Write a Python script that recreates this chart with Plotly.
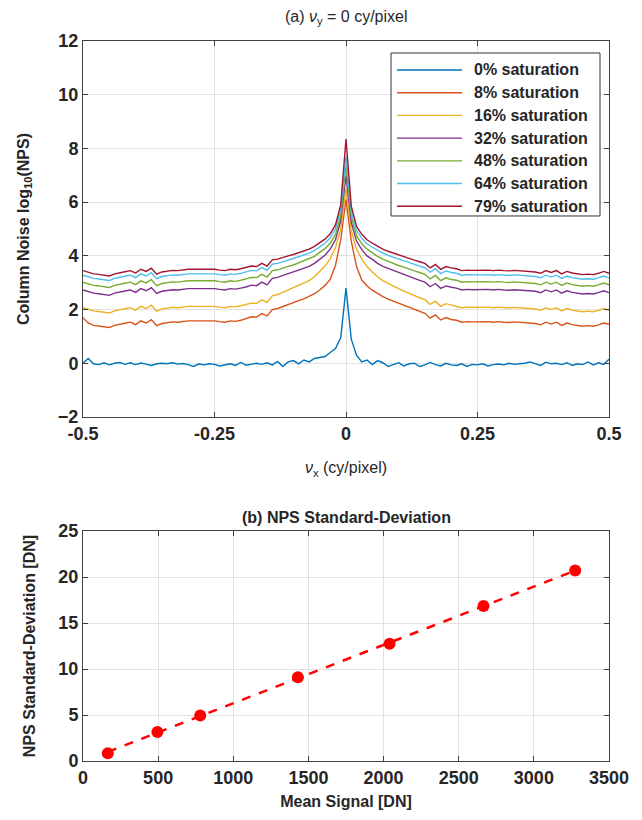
import numpy as np
import plotly.graph_objects as go
from plotly.subplots import make_subplots

# ---------------- data: panel (a) ----------------
nu_x = [round(-0.5 + 0.01 * i, 2) for i in range(101)]

sat_0 = [0.00, 0.18, -0.02, -0.05, 0.02, -0.06, 0.00, 0.03, -0.04, 0.02,
         -0.05, 0.01, -0.03, -0.08, -0.02, 0.00, -0.02, 0.02, -0.03, -0.01,
         -0.05, -0.12, -0.03, -0.06, -0.02, -0.04, -0.10, -0.05, -0.02, -0.08,
         0.03, -0.07, -0.03, 0.00, -0.04, 0.02, -0.06, 0.07, -0.12, 0.05,
         0.10, -0.02, 0.12, 0.05, 0.18, 0.22, 0.25, 0.40, 0.55, 0.95,
         2.80,
         0.90, 0.30, 0.05, 0.12, -0.05, 0.10, 0.02, -0.12, -0.05, 0.02,
         -0.10, -0.02, 0.00, -0.12, -0.06, 0.03, -0.05, -0.10, 0.00, -0.06,
         -0.08, -0.02, -0.12, -0.04, -0.06, -0.02, -0.10, -0.05, -0.03, -0.06,
         0.00, -0.04, -0.02, 0.00, 0.05, -0.02, -0.08, 0.04, -0.02, 0.00,
         -0.05, 0.02, -0.08, -0.02, -0.05, 0.05, -0.06, 0.02, -0.04, 0.15]

sat_8 = [1.70, 1.50, 1.41, 1.39, 1.37, 1.33, 1.41, 1.46, 1.49, 1.53,
         1.44, 1.58, 1.50, 1.62, 1.40, 1.48, 1.52, 1.54, 1.53, 1.56,
         1.58, 1.58, 1.58, 1.56, 1.58, 1.58, 1.55, 1.53, 1.58, 1.56,
         1.60, 1.66, 1.73, 1.72, 1.85, 1.76, 2.00, 2.04, 2.12, 2.18,
         2.25, 2.33, 2.40, 2.48, 2.59, 2.73, 2.90, 3.12, 3.65, 4.60,
         6.10,
         4.55, 3.60, 3.10, 2.88, 2.72, 2.59, 2.48, 2.39, 2.31, 2.23,
         2.15, 2.07, 2.00, 1.93, 1.86, 1.68, 1.80, 1.61, 1.70, 1.63,
         1.60, 1.53, 1.55, 1.54, 1.55, 1.54, 1.55, 1.53, 1.55, 1.53,
         1.52, 1.54, 1.53, 1.51, 1.50, 1.48, 1.43, 1.53, 1.46, 1.53,
         1.41, 1.50, 1.44, 1.41, 1.38, 1.40, 1.38, 1.43, 1.50, 1.45]

sat_16 = [2.07, 2.00, 1.95, 1.93, 1.91, 1.87, 1.95, 2.00, 2.03, 2.07,
          1.98, 2.12, 2.04, 2.16, 1.94, 2.02, 2.06, 2.08, 2.07, 2.10,
          2.12, 2.12, 2.12, 2.10, 2.12, 2.12, 2.09, 2.07, 2.12, 2.10,
          2.14, 2.18, 2.24, 2.23, 2.36, 2.27, 2.51, 2.56, 2.65, 2.72,
          2.80, 2.90, 2.98, 3.08, 3.22, 3.41, 3.62, 3.90, 4.30, 5.00,
          6.50,
          4.95, 4.25, 3.88, 3.60, 3.40, 3.22, 3.08, 2.97, 2.88, 2.78,
          2.69, 2.60, 2.52, 2.44, 2.37, 2.19, 2.31, 2.12, 2.22, 2.17,
          2.14, 2.07, 2.09, 2.08, 2.09, 2.08, 2.09, 2.07, 2.09, 2.07,
          2.06, 2.08, 2.07, 2.05, 2.04, 2.02, 1.97, 2.07, 2.00, 2.07,
          1.95, 2.04, 1.98, 1.95, 1.92, 1.94, 1.92, 1.97, 2.04, 1.97]

sat_32 = [2.73, 2.66, 2.61, 2.59, 2.57, 2.53, 2.61, 2.66, 2.69, 2.73,
          2.64, 2.78, 2.70, 2.82, 2.60, 2.68, 2.72, 2.74, 2.73, 2.76,
          2.78, 2.78, 2.78, 2.76, 2.78, 2.78, 2.75, 2.73, 2.78, 2.76,
          2.80, 2.84, 2.91, 2.89, 3.02, 2.92, 3.16, 3.20, 3.27, 3.33,
          3.39, 3.47, 3.54, 3.61, 3.72, 3.88, 4.02, 4.25, 4.60, 5.30,
          7.00,
          5.25, 4.55, 4.23, 4.00, 3.87, 3.72, 3.61, 3.53, 3.45, 3.37,
          3.30, 3.22, 3.16, 3.09, 3.02, 2.85, 2.97, 2.79, 2.88, 2.83,
          2.80, 2.73, 2.75, 2.74, 2.75, 2.74, 2.75, 2.73, 2.75, 2.73,
          2.72, 2.74, 2.73, 2.71, 2.70, 2.68, 2.63, 2.73, 2.66, 2.73,
          2.61, 2.70, 2.64, 2.61, 2.58, 2.60, 2.58, 2.63, 2.70, 2.63]

sat_48 = [3.02, 2.95, 2.90, 2.88, 2.86, 2.82, 2.90, 2.95, 2.98, 3.02,
          2.93, 3.07, 2.99, 3.11, 2.89, 2.97, 3.01, 3.03, 3.02, 3.05,
          3.07, 3.07, 3.07, 3.05, 3.07, 3.07, 3.04, 3.02, 3.07, 3.05,
          3.09, 3.14, 3.20, 3.19, 3.31, 3.21, 3.45, 3.48, 3.55, 3.61,
          3.66, 3.74, 3.80, 3.88, 3.98, 4.13, 4.27, 4.47, 4.80, 5.50,
          7.35,
          5.45, 4.75, 4.45, 4.25, 4.12, 3.98, 3.88, 3.79, 3.72, 3.64,
          3.58, 3.50, 3.44, 3.38, 3.31, 3.14, 3.27, 3.08, 3.18, 3.12,
          3.09, 3.02, 3.04, 3.03, 3.04, 3.03, 3.04, 3.02, 3.04, 3.02,
          3.01, 3.03, 3.02, 3.00, 2.99, 2.97, 2.92, 3.02, 2.95, 3.02,
          2.90, 2.99, 2.93, 2.90, 2.87, 2.89, 2.87, 2.92, 2.99, 2.92]

sat_64 = [3.28, 3.21, 3.16, 3.14, 3.12, 3.08, 3.16, 3.21, 3.24, 3.28,
          3.19, 3.33, 3.25, 3.37, 3.15, 3.23, 3.27, 3.29, 3.28, 3.31,
          3.33, 3.33, 3.33, 3.31, 3.33, 3.33, 3.30, 3.28, 3.33, 3.31,
          3.35, 3.40, 3.46, 3.44, 3.56, 3.46, 3.69, 3.72, 3.79, 3.84,
          3.90, 3.97, 4.03, 4.10, 4.20, 4.33, 4.47, 4.67, 5.00, 5.70,
          7.70,
          5.65, 4.95, 4.65, 4.45, 4.32, 4.20, 4.10, 4.02, 3.95, 3.88,
          3.81, 3.74, 3.68, 3.62, 3.56, 3.39, 3.52, 3.34, 3.44, 3.38,
          3.35, 3.28, 3.30, 3.29, 3.30, 3.29, 3.30, 3.28, 3.30, 3.28,
          3.27, 3.29, 3.28, 3.26, 3.25, 3.23, 3.18, 3.28, 3.21, 3.28,
          3.16, 3.25, 3.19, 3.16, 3.13, 3.15, 3.13, 3.18, 3.25, 3.18]

sat_79 = [3.45, 3.38, 3.33, 3.31, 3.29, 3.25, 3.33, 3.38, 3.41, 3.45,
          3.36, 3.50, 3.42, 3.54, 3.32, 3.40, 3.44, 3.46, 3.45, 3.48,
          3.50, 3.50, 3.50, 3.48, 3.50, 3.50, 3.47, 3.45, 3.50, 3.48,
          3.52, 3.56, 3.62, 3.60, 3.72, 3.62, 3.85, 3.88, 3.95, 4.00,
          4.05, 4.12, 4.18, 4.25, 4.35, 4.48, 4.62, 4.82, 5.15, 5.90,
          8.35,
          5.85, 5.10, 4.80, 4.60, 4.47, 4.35, 4.25, 4.17, 4.10, 4.03,
          3.97, 3.90, 3.84, 3.78, 3.72, 3.55, 3.68, 3.50, 3.60, 3.55,
          3.52, 3.45, 3.47, 3.46, 3.47, 3.46, 3.47, 3.45, 3.47, 3.45,
          3.44, 3.46, 3.45, 3.43, 3.42, 3.40, 3.35, 3.45, 3.38, 3.45,
          3.33, 3.42, 3.36, 3.33, 3.30, 3.32, 3.30, 3.35, 3.42, 3.35]

series_names = ["0% saturation", "8% saturation", "16% saturation", "32% saturation",
                "48% saturation", "64% saturation", "79% saturation"]
series_values = [sat_0, sat_8, sat_16, sat_32, sat_48, sat_64, sat_79]
series_colors = ["#0072BD", "#D95319", "#EDB120", "#7E2F8E", "#77AC30", "#4DBEEE", "#A2142F"]

# ---------------- data: panel (b) ----------------
mean_signal = [165, 495, 780, 1430, 2040, 2665, 3275]
nps_std = [0.85, 3.15, 4.95, 9.1, 12.75, 16.85, 20.7]

FONT = "Liberation Sans, Arial, sans-serif"
AXC = "#404040"
TXT = "#262626"

fig = make_subplots(rows=2, cols=1, vertical_spacing=0.0)

for name, vals, col in zip(series_names, series_values, series_colors):
    fig.add_trace(go.Scatter(x=nu_x, y=vals, mode="lines", name=name, showlegend=False,
                             line=dict(color=col, width=1.4)), row=1, col=1)

coef = np.polyfit(mean_signal, nps_std, 1)
fit_x = [mean_signal[0], mean_signal[-1]]
fit_y = list(np.polyval(coef, fit_x))
fig.add_trace(go.Scatter(x=fit_x, y=fit_y, mode="lines", showlegend=False,
                         line=dict(color="#ff0000", width=2.5, dash="dash")), row=2, col=1)
fig.add_trace(go.Scatter(x=mean_signal, y=nps_std, mode="markers", showlegend=False,
                         marker=dict(color="#ff0000", size=12)), row=2, col=1)

axis_common = dict(showline=True, linecolor=AXC, linewidth=1, mirror="ticks",
                   ticks="inside", ticklen=5, tickcolor=AXC, automargin=False,
                   showgrid=True, gridcolor="#e2e2e2", gridwidth=1, zeroline=False,
                   tickfont=dict(family=FONT, size=18, color=TXT, weight="bold"))

fig.update_xaxes(axis_common)
fig.update_yaxes(axis_common)

fig.update_xaxes(row=1, col=1, range=[-0.5, 0.5], tickvals=[-0.5, -0.25, 0, 0.25, 0.5],
                 ticktext=["-0.5", "-0.25", "0", "0.25", "0.5"],
                 title=dict(text="<i>ν</i><sub>x</sub> (cy/pixel)", standoff=19,
                            font=dict(family=FONT, size=16, color=TXT)),
                 domain=[0, 1])
fig.update_yaxes(row=1, col=1, range=[-2, 12], tickvals=list(range(-2, 13, 2)),
                 domain=[0.4778, 1.0],
                 title=dict(text="Column Noise log<sub>10</sub>(NPS)", standoff=24,
                            font=dict(family=FONT, size=16, color=TXT, weight="bold")))
fig.update_xaxes(row=2, col=1, range=[0, 3500], tickvals=list(range(0, 3501, 500)),
                 domain=[0, 1],
                 title=dict(text="Mean Signal [DN]", standoff=9,
                            font=dict(family=FONT, size=16, color=TXT, weight="bold")))
fig.update_yaxes(row=2, col=1, range=[0, 25], tickvals=list(range(0, 26, 5)),
                 domain=[0.0, 0.3194],
                 title=dict(text="NPS Standard-Deviation [DN]", standoff=18,
                            font=dict(family=FONT, size=16, color=TXT, weight="bold")))

fig.add_annotation(text="(a) <i>ν</i><sub>y</sub> = 0 cy/pixel", xref="paper", yref="paper",
                   x=0.5, y=1.0, yshift=12, xanchor="center", yanchor="bottom", showarrow=False,
                   font=dict(family=FONT, size=16, color=TXT))
fig.add_annotation(text="(b) NPS Standard-Deviation", xref="paper", yref="paper",
                   x=0.5, y=0.3194, yshift=3, xanchor="center", yanchor="bottom", showarrow=False,
                   font=dict(family=FONT, size=16, color=TXT, weight="bold"))

# legend box (drawn in the top panel's domain coordinates)
leg_x0, leg_x1, leg_y0, leg_y1 = 0.5856, 0.9829, 0.5346, 0.9681
fig.add_shape(type="rect", xref="x domain", yref="y domain",
              x0=leg_x0, x1=leg_x1, y0=leg_y0, y1=leg_y1,
              line=dict(color="#333333", width=1), fillcolor="white", layer="above")
row_top, row_step = 0.9229, 0.0604
for k, (name, col) in enumerate(zip(series_names, series_colors)):
    yy = row_top - k * row_step
    fig.add_shape(type="line", xref="x domain", yref="y domain",
                  x0=0.5970, x1=0.7205, y0=yy, y1=yy,
                  line=dict(color=col, width=1.4), layer="above")
    fig.add_annotation(text=name, xref="x domain", yref="y domain",
                       x=0.7395, y=yy, xanchor="left", yanchor="middle", showarrow=False,
                       font=dict(family=FONT, size=16, color=TXT, weight="bold"))

# page body adds an 8px margin, so the figure is sized to fit inside the window
fig.update_layout(
    width=626, height=804,
    margin=dict(l=75, r=25, t=33, b=51, autoexpand=False),
    plot_bgcolor="white", paper_bgcolor="white",
    showlegend=False,
)

fig.write_html("out.html")
